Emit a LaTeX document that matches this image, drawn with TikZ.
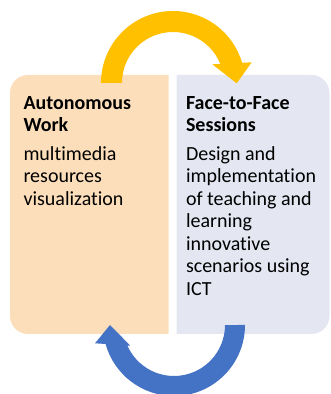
\documentclass[tikz,border=0pt]{standalone}
\usepackage{fontspec}
\setmainfont{Carlito}[Ligatures=CommonOff]
\definecolor{leftfill}{HTML}{FCDEBA}
\definecolor{rightfill}{HTML}{E4E7F2}
\definecolor{arrowgold}{HTML}{FFC000}
\definecolor{arrowblue}{HTML}{4472C4}
\begin{document}
\begin{tikzpicture}[x=1pt,y=1pt,
  txt/.style={anchor=base west, inner sep=0pt, outer sep=0pt, font=\fontsize{20}{22.5}\selectfont, text=black},
  head/.style={txt, font=\fontsize{20}{22.5}\selectfont\bfseries}]
\useasboundingbox (0,0) rectangle (330,394);
\clip (0,0) rectangle (330,394);
% boxes
\fill[leftfill] (168.5,60) -- (28,60) arc[start angle=270, end angle=180, radius=18pt]
  -- (10,301) arc[start angle=180, end angle=90, radius=18pt] -- (168.5,319) -- cycle;
\fill[rightfill] (176.5,60) -- (311.5,60) arc[start angle=-90, end angle=0, radius=18pt]
  -- (329.5,301) arc[start angle=0, end angle=90, radius=18pt] -- (176.5,319) -- cycle;
\coordinate (lbox) at (89,190);
\coordinate (rbox) at (253,190);
% gold arrow (left box to right box, over the top)
\fill[arrowgold] (101,311) arc[start angle=180, end angle=16.3, radius=72pt]
  -- (251.7,331.7) -- (236.7,310.7) -- (212.3,329.7) -- (220.3,330)
  arc[start angle=21.87, end angle=180, radius=51pt] -- cycle;
% blue arrow (right box back to left box, underneath)
\fill[arrowblue] (245,69) arc[start angle=0, end angle=-164.48, radius=71pt]
  -- (95,50.7) -- (110,69) -- (130.3,48.3) -- (127.3,48.5)
  arc[start angle=-156.3, end angle=0, radius=51pt] -- cycle;
% left texts
\node[head] (l1) at (23.5,284.5) {Autonomous};
\node[head] (l2) at (23.5,262) {Work};
\node[txt] (l3) at (23.5,233.5) {multimedia};
\node[txt] (l4) at (23.5,211) {resources};
\node[txt] (l5) at (23.5,188.5) {visualization};
% right texts
\node[head] (r1) at (186,284.5) {Face-to-Face};
\node[head] (r2) at (186,262) {Sessions};
\node[txt] (r3) at (186,233.5) {Design and};
\node[txt] (r4) at (186,211) {implementation};
\node[txt] (r5) at (186,188.5) {of teaching and};
\node[txt] (r6) at (186,166) {learning};
\node[txt] (r7) at (186,143.5) {innovative};
\node[txt] (r8) at (186,121) {scenarios using};
\node[txt] (r9) at (186,98.5) {ICT};
\end{tikzpicture}
\end{document}
